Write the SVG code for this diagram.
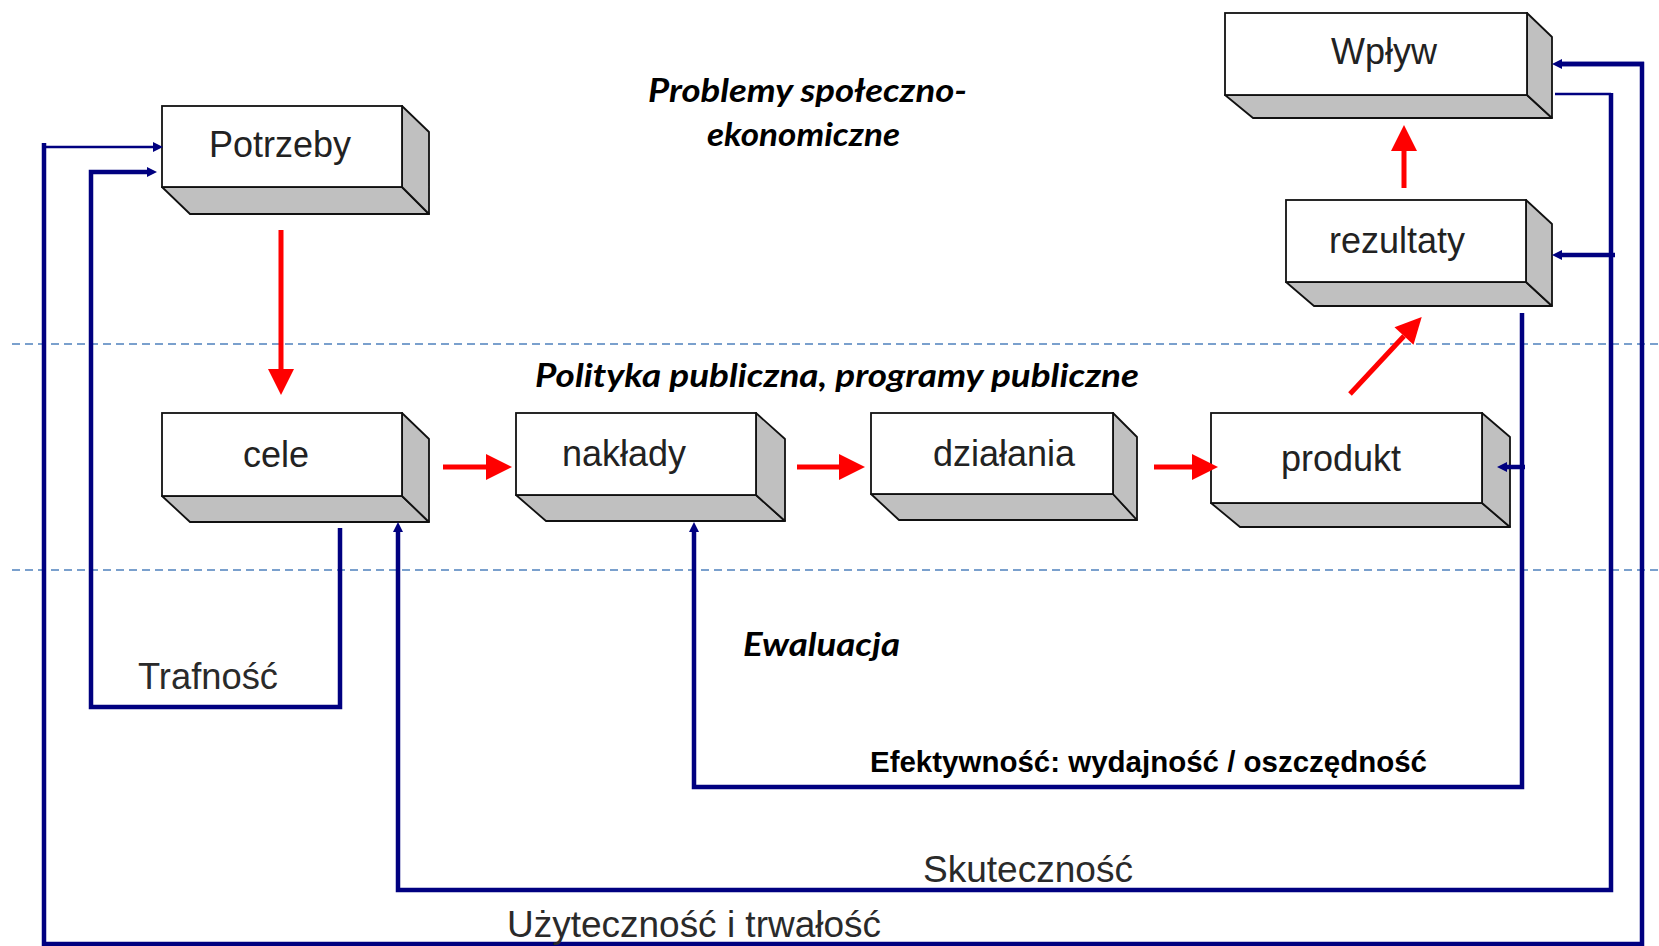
<svg xmlns="http://www.w3.org/2000/svg" width="1659" height="946" viewBox="0 0 1659 946">
  <style>
    .front { fill: #ffffff; stroke: #111111; stroke-width: 1.8; }
    .face { fill: #c0c0c0; stroke: #111111; stroke-width: 1.8; stroke-linejoin: round; }
    .lbl { font-family: "Liberation Sans", Arial, sans-serif; font-size: 36px; fill: #222222; text-anchor: middle; }
    .plain { font-family: "Liberation Sans", Arial, sans-serif; font-size: 36px; fill: #2a2a2a; }
    .bold { font-family: "Liberation Sans", Arial, sans-serif; font-size: 29.5px; font-weight: bold; fill: #000000; }
    .head { font-family: Lato, "Open Sans", sans-serif; font-size: 33px; font-weight: bold; font-style: italic; fill: #000000; }
    .dash { stroke: #4f81bd; stroke-width: 1.6; stroke-dasharray: 8 5; fill: none; }
    .red { stroke: #ff0000; stroke-width: 5; fill: none; }
    .blue { stroke: #000080; stroke-width: 4.5; fill: none; stroke-linejoin: miter; }
    .bluethin { stroke: #000080; stroke-width: 2.5; fill: none; }
  </style>
  <defs>
    <marker id="redHead" markerUnits="userSpaceOnUse" markerWidth="27" markerHeight="26" refX="0" refY="13" orient="auto" overflow="visible">
      <path d="M0,0 L26,13 L0,26 Z" fill="#ff0000"/>
    </marker>
    <marker id="blueHead" markerUnits="userSpaceOnUse" markerWidth="12" markerHeight="12" refX="0" refY="5" orient="auto" overflow="visible">
      <path d="M0,0 L10,5 L0,10 Z" fill="#000080"/>
    </marker>
  </defs>

  <rect x="0" y="0" width="1659" height="946" fill="#ffffff"/>

  <g id="dividers">
    <line class="dash" x1="12" y1="344" x2="1659" y2="344"/>
    <line class="dash" x1="12" y1="570" x2="1659" y2="570"/>
  </g>

  <g id="section-labels">
    <text class="head" x="648" y="102" textLength="319" lengthAdjust="spacingAndGlyphs">Problemy społeczno-</text>
    <text class="head" x="707" y="146" textLength="193" lengthAdjust="spacingAndGlyphs">ekonomiczne</text>
    <text class="head" x="535" y="387" textLength="604" lengthAdjust="spacingAndGlyphs">Polityka publiczna, programy publiczne</text>
    <text class="head" x="743" y="656" textLength="157" lengthAdjust="spacingAndGlyphs">Ewaluacja</text>
  </g>

  <g id="node-potrzeby">
    <polygon class="face" points="162,187 402,187 429,214 190,214"/>
    <polygon class="face" points="402,106 429,132 429,214 402,187"/>
    <rect class="front" x="162" y="106" width="240" height="81"/>
    <text class="lbl" x="280" y="157">Potrzeby</text>
  </g>

  <g id="node-cele">
    <polygon class="face" points="162,496 402,496 429,522 190,522"/>
    <polygon class="face" points="402,413 429,439 429,522 402,496"/>
    <rect class="front" x="162" y="413" width="240" height="83"/>
    <text class="lbl" x="276" y="467">cele</text>
  </g>

  <g id="node-naklady">
    <polygon class="face" points="516,495 756,495 785,521 546,521"/>
    <polygon class="face" points="756,413 785,439 785,521 756,495"/>
    <rect class="front" x="516" y="413" width="240" height="82"/>
    <text class="lbl" x="624" y="466">nakłady</text>
  </g>

  <g id="node-dzialania">
    <polygon class="face" points="871,494 1113,494 1137,520 899,520"/>
    <polygon class="face" points="1113,413 1137,437 1137,520 1113,494"/>
    <rect class="front" x="871" y="413" width="242" height="81"/>
    <text class="lbl" x="1004" y="466">działania</text>
  </g>

  <g id="node-produkt">
    <polygon class="face" points="1211,503 1482,503 1510,527 1240,527"/>
    <polygon class="face" points="1482,413 1510,437 1510,527 1482,503"/>
    <rect class="front" x="1211" y="413" width="271" height="90"/>
    <text class="lbl" x="1341" y="471">produkt</text>
  </g>

  <g id="node-rezultaty">
    <polygon class="face" points="1286,282 1526,282 1552,306 1314,306"/>
    <polygon class="face" points="1526,200 1552,224 1552,306 1526,282"/>
    <rect class="front" x="1286" y="200" width="240" height="82"/>
    <text class="lbl" x="1397" y="253">rezultaty</text>
  </g>

  <g id="node-wplyw">
    <polygon class="face" points="1225,95 1527,95 1552,118 1253,118"/>
    <polygon class="face" points="1527,13 1552,37 1552,118 1527,95"/>
    <rect class="front" x="1225" y="13" width="302" height="82"/>
    <text class="lbl" x="1384" y="64">Wpływ</text>
  </g>

  <g id="connectors">
    <!-- Użyteczność i trwałość loop -->
    <path class="blue" d="M1562,64 H1642 V944 H44 V143"/>
    <line class="bluethin" x1="44" y1="147" x2="153" y2="147" marker-end="url(#blueHead)"/>
    <line class="blue" x1="1644" y1="64" x2="1562" y2="64" marker-end="url(#blueHead)"/>
    <!-- Skuteczność loop -->
    <path class="bluethin" d="M1555,94 H1611"/>
    <path class="blue" d="M1611,93 V890 H398 V532" marker-end="url(#blueHead)"/>
    <line class="blue" x1="1615" y1="255" x2="1562" y2="255" marker-end="url(#blueHead)"/>
    <!-- Efektywność loop -->
    <path class="blue" d="M1522,313 V787 H694 V532" marker-end="url(#blueHead)"/>
    <line class="blue" x1="1525" y1="467" x2="1507" y2="467" marker-end="url(#blueHead)"/>
    <!-- Trafność loop -->
    <path class="blue" d="M340,528 V707 H91 V172 H147" marker-end="url(#blueHead)"/>

    <!-- red flow arrows -->
    <line class="red" x1="281" y1="230" x2="281" y2="369" marker-end="url(#redHead)"/>
    <line class="red" x1="443" y1="467" x2="486" y2="467" marker-end="url(#redHead)"/>
    <line class="red" x1="797" y1="467" x2="839" y2="467" marker-end="url(#redHead)"/>
    <line class="red" x1="1154" y1="467" x2="1192" y2="467" marker-end="url(#redHead)"/>
    <line class="red" x1="1350" y1="394" x2="1404" y2="336" marker-end="url(#redHead)"/>
    <line class="red" x1="1404" y1="188" x2="1404" y2="151" marker-end="url(#redHead)"/>
  </g>

  <g id="loop-labels">
    <text class="plain" x="138" y="689" textLength="140" lengthAdjust="spacingAndGlyphs">Trafność</text>
    <text class="bold" x="870" y="772" textLength="557" lengthAdjust="spacingAndGlyphs">Efektywność: wydajność / oszczędność</text>
    <text class="plain" x="923" y="882" textLength="210" lengthAdjust="spacingAndGlyphs">Skuteczność</text>
    <text class="plain" x="507" y="937" textLength="374" lengthAdjust="spacingAndGlyphs">Użyteczność i trwałość</text>
  </g>
</svg>
